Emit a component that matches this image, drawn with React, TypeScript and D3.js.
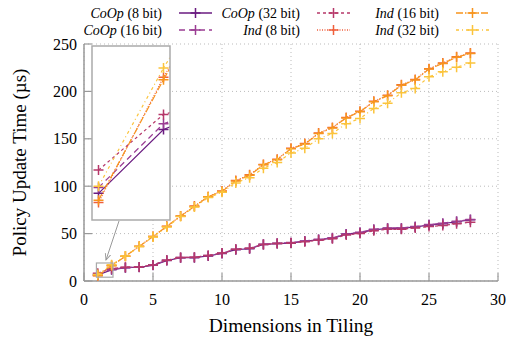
import React from "react";
import * as d3 from "d3";

const dims = d3.range(1, 29);

const coop8 = [6.3, 11.8, 14, 14.5, 16.5, 21.5, 24.5, 24.5, 26.5, 29, 33, 34, 38.5, 39.5, 40, 42, 43.5, 45, 49.5, 51, 54, 55.5, 55.5, 57, 59, 60.5, 62.5, 64.5];
const coop16 = [6.8, 12.3, 14.3, 14.8, 17, 21.8, 24.8, 25, 26.8, 29.2, 33.5, 34.5, 38.8, 39.8, 40.5, 42.3, 44, 45.5, 49.5, 51.5, 54.5, 56, 56, 57.5, 59.5, 61, 63, 65];
const coop32 = [8.3, 13.1, 14.6, 14.8, 17, 22, 24.8, 25, 27, 29.5, 33.5, 34.5, 38.5, 39.5, 40, 41.5, 43, 44.5, 48.5, 50, 53, 54.5, 54.5, 56, 57.5, 58.5, 60.5, 62];
const ind8 = [5.5, 16.3, 26, 36.6, 47, 57.7, 68.6, 79, 89, 95, 106, 112, 123, 128.5, 140, 145, 156, 162, 172.6, 179, 189.5, 196, 207, 212.5, 224, 230, 236.5, 240.5];
const ind16 = [5.7, 16.1, 26, 36.5, 47, 57.5, 68.5, 78.5, 89, 94.5, 105.5, 111.5, 122.5, 128, 139.5, 144.5, 155.5, 161.5, 172, 178.5, 189, 195.5, 206.5, 212, 223.5, 229.5, 236, 240];
const ind32 = [6.9, 17.1, 26.3, 36.4, 46.5, 57, 68, 78, 88, 93.5, 103.5, 109, 119, 125, 135, 140, 150, 155.7, 166, 171.5, 182, 187.5, 198.6, 203, 215.5, 220.8, 225.5, 230];

const xTicks = [0, 5, 10, 15, 20, 25, 30];
const yTicks = [0, 50, 100, 150, 200, 250];
const zoomX = [0.9, 2.1];
const zoomY = [4, 19];

const series = [
  { name: "CoOp", bits: "8 bit", values: coop8, color: "#6a1b80", dash: "" },
  { name: "CoOp", bits: "16 bit", values: coop16, color: "#9b3d93", dash: "6,4" },
  { name: "CoOp", bits: "32 bit", values: coop32, color: "#b6386a", dash: "3,3" },
  { name: "Ind", bits: "8 bit", values: ind8, color: "#ef5f3c", dash: "1,1.5" },
  { name: "Ind", bits: "16 bit", values: ind16, color: "#f7941d", dash: "7,2,1.5,2" },
  { name: "Ind", bits: "32 bit", values: ind32, color: "#fbc43c", dash: "3,3,1,3" },
];

const W = 510;
const H = 339;
const m = { left: 84, right: 12, top: 44, bottom: 58 };
const font = "'Liberation Serif', 'DejaVu Serif', serif";

function Plus({ x, y, color }: { x: number; y: number; color: string }) {
  return (
    <path
      d={`M${x - 5},${y}H${x + 5}M${x},${y - 5}V${y + 5}`}
      stroke={color}
      strokeWidth={1.5}
      fill="none"
    />
  );
}

export default function App() {
  const x = d3.scaleLinear().domain([0, 30]).range([m.left, W - m.right]);
  const y = d3.scaleLinear().domain([0, 250]).range([H - m.bottom, m.top]);

  // inset
  const inset = { x0: 92, x1: 170, y0: 46, y1: 220 };
  const ix = d3.scaleLinear().domain(zoomX).range([inset.x0, inset.x1]);
  const iy = d3.scaleLinear().domain(zoomY).range([inset.y1, inset.y0]);

  const line = d3
    .line<number>()
    .x((_, i) => x(dims[i]))
    .y((d) => y(d));
  const iline = d3
    .line<number>()
    .x((_, i) => ix(dims[i]))
    .y((d) => iy(d));

  // legend columns: label right edge
  const legendCols = [162, 300, 439];
  const legendRows = [13, 30];

  return (
    <svg
      width={W}
      height={H}
      style={{ position: "absolute", left: 0, top: 0, background: "#fff" }}
      fontFamily={font}
    >
      <defs>
        <clipPath id="insetClip">
          <rect x={inset.x0} y={inset.y0} width={inset.x1 - inset.x0} height={inset.y1 - inset.y0} />
        </clipPath>
        <marker id="arrow" viewBox="0 0 10 10" refX="9" refY="5" markerWidth="7" markerHeight="7" orient="auto">
          <path d="M0,1 L9,5 L0,9" fill="none" stroke="#999" strokeWidth={1.3} />
        </marker>
      </defs>

      {/* grid */}
      {xTicks.map((t) => (
        <line key={"gx" + t} x1={x(t)} x2={x(t)} y1={y(0)} y2={y(250)} stroke="#bbb" strokeDasharray="1,3" />
      ))}
      {yTicks.map((t) => (
        <line key={"gy" + t} x1={x(0)} x2={x(30)} y1={y(t)} y2={y(t)} stroke="#bbb" strokeDasharray="1,3" />
      ))}

      {/* axes */}
      <line x1={x(0)} x2={x(30)} y1={y(0)} y2={y(0)} stroke="#999" strokeWidth={1.5} />
      <line x1={x(0)} x2={x(0)} y1={y(0)} y2={y(250)} stroke="#999" strokeWidth={1.5} />
      {xTicks.map((t) => (
        <g key={"tx" + t}>
          <line x1={x(t)} x2={x(t)} y1={y(0)} y2={y(0) - 8} stroke="#999" strokeWidth={1.2} />
          <text x={x(t)} y={y(0) + 24} textAnchor="middle" fontSize={16}>
            {t}
          </text>
        </g>
      ))}
      {yTicks.map((t) => (
        <g key={"ty" + t}>
          <line x1={x(0)} x2={x(0) + 8} y1={y(t)} y2={y(t)} stroke="#999" strokeWidth={1.2} />
          <text x={x(0) - 7} y={y(t)} dy="0.35em" textAnchor="end" fontSize={16}>
            {t}
          </text>
        </g>
      ))}
      <text x={(x(0) + x(30)) / 2} y={332} textAnchor="middle" fontSize={19.5}>
        Dimensions in Tiling
      </text>
      <text
        transform={`translate(26,${(y(0) + y(250)) / 2}) rotate(-90)`}
        textAnchor="middle"
        fontSize={19}
      >
        Policy Update Time (µs)
      </text>

      {/* series */}
      {series.map((s, si) => (
        <g key={"s" + si}>
          <path d={line(s.values) || ""} fill="none" stroke={s.color} strokeWidth={1.2} strokeDasharray={s.dash} />
          {s.values.map((v, i) => (
            <Plus key={i} x={x(dims[i])} y={y(v)} color={s.color} />
          ))}
        </g>
      ))}

      {/* zoom rectangle and arrow */}
      <rect
        x={x(zoomX[0])}
        y={y(zoomY[1])}
        width={x(zoomX[1]) - x(zoomX[0])}
        height={y(zoomY[0]) - y(zoomY[1])}
        fill="none"
        stroke="#aaa"
        strokeWidth={1.2}
      />
      <line x1={119} y1={221} x2={106} y2={260} stroke="#999" strokeWidth={1} markerEnd="url(#arrow)" />

      {/* inset */}
      <rect x={inset.x0} y={inset.y0} width={inset.x1 - inset.x0} height={inset.y1 - inset.y0} fill="#fff" />
      <g clipPath="url(#insetClip)">
        {series.map((s, si) => (
          <g key={"is" + si}>
            <path d={iline(s.values) || ""} fill="none" stroke={s.color} strokeWidth={1.2} strokeDasharray={s.dash} />
            {s.values.map((v, i) => (
              <Plus key={i} x={ix(dims[i])} y={iy(v)} color={s.color} />
            ))}
          </g>
        ))}
      </g>
      <rect
        x={inset.x0}
        y={inset.y0}
        width={inset.x1 - inset.x0}
        height={inset.y1 - inset.y0}
        fill="none"
        stroke="#aaa"
        strokeWidth={1.5}
      />

      {/* legend */}
      {series.map((s, si) => {
        const col = Math.floor(si / 2);
        const row = si % 2;
        const rx = legendCols[col];
        const ly = legendRows[row];
        return (
          <g key={"lg" + si}>
            <text x={rx} y={ly} dy="0.35em" textAnchor="end" fontSize={14}>
              <tspan fontStyle="italic">{s.name}</tspan> ({s.bits})
            </text>
            <line x1={rx + 17} x2={rx + 50} y1={ly} y2={ly} stroke={s.color} strokeWidth={1.3} strokeDasharray={s.dash} />
            <Plus x={rx + 33.5} y={ly} color={s.color} />
          </g>
        );
      })}
    </svg>
  );
}
